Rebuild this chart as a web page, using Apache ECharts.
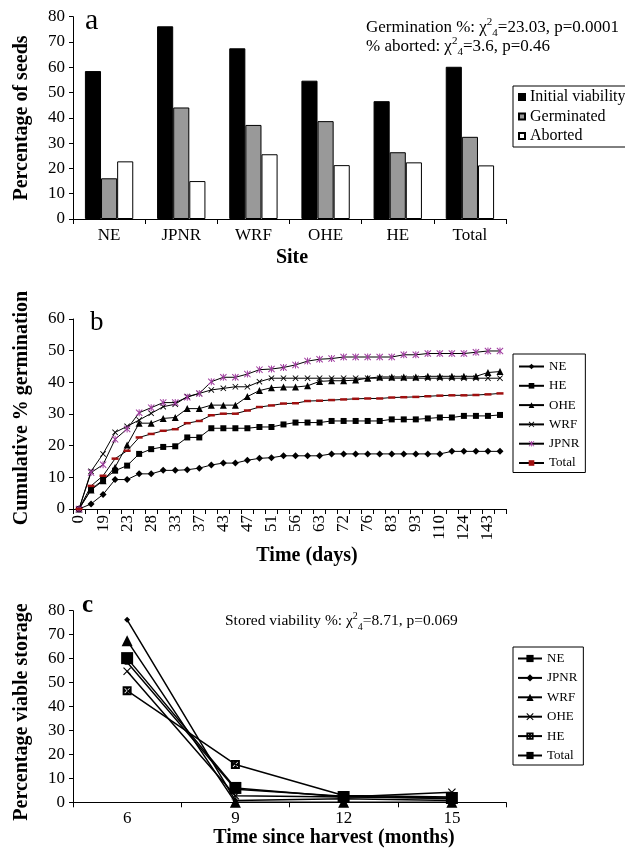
<!DOCTYPE html>
<html><head><meta charset="utf-8">
<script src="https://cdn.jsdelivr.net/npm/echarts@6/dist/echarts.min.js"></script>
<style>html,body{margin:0;padding:0;background:#fff}#c{width:625px;height:850px}</style>
</head><body><div id="c"></div>
<script>
// ---------- Panel a ----------
const sites = ['NE','JPNR','WRF','OHE','HE','Total'];
const initialViability = [58.5,76.2,67.5,54.7,46.6,60.2];
const germinated = [16.1,44.1,37.2,38.7,26.4,32.5];
const aborted = [22.8,15.0,25.6,21.3,22.4,21.2];
const yTicksA = [0,80,10];

// ---------- Panel b ----------
const days = ['0','15','19','21','23','26','28','30','33','35','37','40','43','45','47','49','51','54','56','59','63','68','72','74','76','79','83','88','93','100','110','117','124','134','143','150'];
const germNE = [0,1.6,4.6,9.3,9.3,11.1,11.1,12.2,12.2,12.4,12.9,13.9,14.5,14.5,15.4,16.0,16.2,16.8,16.8,16.8,16.8,17.4,17.4,17.4,17.4,17.4,17.4,17.4,17.4,17.4,17.4,18.2,18.2,18.2,18.2,18.2];
const germHE = [0,6.2,9.2,12.1,13.7,17.4,18.9,19.6,19.8,22.6,22.6,25.5,25.5,25.5,25.5,25.9,25.9,26.7,27.3,27.3,27.3,27.8,27.8,27.8,27.8,27.8,28.3,28.3,28.3,28.6,28.9,28.9,29.4,29.4,29.4,29.7];
const germOHE = [0,6.0,8.9,13.2,20.2,27.1,27.1,28.6,28.9,31.7,31.7,32.8,32.8,32.8,35.5,37.4,38.3,38.5,38.5,38.9,40.3,40.5,40.5,40.7,41.3,41.7,41.7,41.7,41.7,41.9,41.9,41.9,41.9,41.9,43.1,43.4];
const germWRF = [0,11.9,17.4,24.2,26.1,28.1,30.2,32.3,33.1,35.5,36.5,37.6,38.1,38.6,38.6,40.2,41.3,41.3,41.3,41.3,41.3,41.3,41.3,41.3,41.3,41.3,41.3,41.3,41.3,41.3,41.3,41.3,41.3,41.3,41.3,41.3];
const germJPNR = [0,11.5,14.0,22.0,25.3,30.4,32.0,33.6,33.6,35.3,36.5,40.2,41.6,41.6,42.6,44.0,44.2,44.7,45.5,46.7,47.3,47.5,48.0,48.0,48.0,48.0,48.0,48.7,48.7,49.1,49.1,49.1,49.1,49.5,49.9,49.9];
const germTotal = [0,7.3,10.5,15.9,18.4,22.6,23.7,24.7,25.2,27.1,27.8,29.6,30.1,30.1,31.1,32.2,32.7,33.3,33.4,34.1,34.2,34.4,34.6,34.8,34.9,34.9,35.2,35.3,35.4,35.6,35.8,35.9,35.9,36.0,36.2,36.5];
const yTicksB = [0,60,10];

// ---------- Panel c ----------
const months = ['6','9','12','15'];
const storeNE = [58.5,5.5,2.5,1.5];
const storeJPNR = [76.2,0.8,1.5,0.8];
const storeWRF = [67.5,0,0,0];
const storeOHE = [54.7,2.7,2.2,4.2];
const storeHE = [46.6,15.8,2.8,2.2];
const storeTotal = [60.2,6.0,2.2,1.8];
const yTicksC = [0,80,10];

const F = 'Liberation Serif, Times New Roman, serif';
const X_PATH = 'path://M0,1L1,0L5,4L9,0L10,1L6,5L10,9L9,10L5,6L1,10L0,9L4,5Z';
const STAR_PATH = 'path://M0,1L1,0L4.3,3.3L4.3,0L5.7,0L5.7,3.3L9,0L10,1L6,5L10,9L9,10L5.7,6.7L5.7,10L4.3,10L4.3,6.7L1,10L0,9L4,5Z';
const HE_PATH = 'path://M0,0L10,0L10,10L0,10Z M4.4,5L2,7.4L2.6,8L5,5.6L7.4,8L8,7.4L5.6,5L8,2.6L7.4,2L5,4.4L2.6,2L2,2.6Z';

const chart = echarts.init(document.getElementById('c'), null, {renderer:'canvas'});

function xAx(gi, data, extra) {
  return Object.assign({
    type:'category', gridIndex:gi, data:data, boundaryGap:true,
    axisLine:{lineStyle:{color:'#000',width:1}},
    axisTick:{show:true,length:5,interval:0,lineStyle:{color:'#000',width:1}},
    axisLabel:{color:'#000',fontFamily:F,fontSize:17,margin:8,interval:0},
    splitLine:{show:false}
  }, extra||{});
}
function yAx(gi, t) {
  return {
    type:'value', gridIndex:gi, min:t[0], max:t[1], interval:t[2],
    axisLine:{show:true,lineStyle:{color:'#000',width:1}},
    axisTick:{show:true,length:4,lineStyle:{color:'#000',width:1}},
    axisLabel:{color:'#000',fontFamily:F,fontSize:17,margin:8},
    splitLine:{show:false}
  };
}
const strip = n => n.replace(/^[abc]:/,'');

function lineB(name, data, symbol, size, color) {
  return {
    name:'b:'+name, type:'line', xAxisIndex:1, yAxisIndex:1, data:data,
    symbol:symbol, symbolSize:size, showSymbol:true,
    lineStyle:{color:'#000',width:1},
    itemStyle:{color:color||'#000'},
    emphasis:{disabled:true}, animation:false
  };
}
function lineC(name, data, symbol, size) {
  return {
    name:'c:'+name, type:'line', xAxisIndex:2, yAxisIndex:2, data:data,
    symbol:symbol, symbolSize:size, showSymbol:true,
    lineStyle:{color:'#000',width:1.5},
    itemStyle:{color:'#000'},
    emphasis:{disabled:true}, animation:false
  };
}
function barA(name, data, color) {
  return {
    name:'a:'+name, type:'bar', xAxisIndex:0, yAxisIndex:0, data:data,
    barGap:'0%', barCategoryGap:'33%',
    itemStyle:{color:color,borderColor:'#000',borderWidth:1},
    emphasis:{disabled:true}, animation:false
  };
}

const titleStyle = {fill:'#000',font:'bold 20px '+F,textAlign:'center',textVerticalAlign:'middle'};
function txt(x,y,text,style,rot){ return {type:'text',x:x,y:y,rotation:rot||0,style:Object.assign({text:text},style)}; }

const option = {
  backgroundColor:'#fff',
  animation:false,
  grid:[
    {left:73, top:16.7, width:433, height:202.3},
    {left:73, top:319, width:433, height:190},
    {left:73, top:610.7, width:433, height:191.6}
  ],
  xAxis:[
    xAx(0, sites),
    xAx(1, days, {axisLabel:{color:'#000',fontFamily:F,fontSize:17,margin:6,interval:1,rotate:90}}),
    xAx(2, months)
  ],
  yAxis:[ yAx(0,yTicksA), yAx(1,yTicksB), yAx(2,yTicksC) ],
  legend:[
    {data:['a:Initial viability','a:Germinated','a:Aborted'], formatter:strip, orient:'vertical',
     left:513, top:86, itemWidth:6, itemHeight:6, itemGap:3.5, icon:'rect', padding:[3,8,3,5],
     borderColor:'#000', borderWidth:1, selectedMode:false,
     textStyle:{color:'#000',fontFamily:F,fontSize:16}},
    {data:['b:NE','b:HE','b:OHE','b:WRF','b:JPNR','b:Total'], formatter:strip, orient:'vertical',
     left:513, top:354, itemWidth:25, itemHeight:7, itemGap:6.3, padding:[6,6,3,5],
     borderColor:'#000', borderWidth:1, selectedMode:false,
     textStyle:{color:'#000',fontFamily:F,fontSize:13}},
    {data:['c:NE','c:JPNR','c:WRF','c:OHE','c:HE','c:Total'], formatter:strip, orient:'vertical',
     left:513, top:647, itemWidth:24, itemHeight:9, itemGap:6.4, padding:[5,6,3,4],
     borderColor:'#000', borderWidth:1, selectedMode:false,
     textStyle:{color:'#000',fontFamily:F,fontSize:13}}
  ],
  series:[
    barA('Initial viability', initialViability, '#000'),
    barA('Germinated', germinated, '#999999'),
    barA('Aborted', aborted, '#ffffff'),
    lineB('NE', germNE, 'diamond', 7),
    lineB('HE', germHE, 'rect', 6),
    lineB('OHE', germOHE, 'triangle', 7),
    lineB('WRF', germWRF, X_PATH, 6),
    lineB('JPNR', germJPNR, STAR_PATH, 7, '#a03ca0'),
    lineB('Total', germTotal, 'rect', [7,2.5], '#a01010'),
    lineC('NE', storeNE, 'rect', 5),
    lineC('JPNR', storeJPNR, 'diamond', 6),
    lineC('WRF', storeWRF, 'triangle', 11),
    lineC('OHE', storeOHE, X_PATH, 8),
    lineC('HE', storeHE, HE_PATH, 9),
    lineC('Total', storeTotal, 'rect', 12)
  ],
  graphic:[
    txt(85, 36, 'a', {fill:'#000',font:'30px '+F,textVerticalAlign:'bottom'}),
    {type:'text', left:366, top:17, style:{
      text:'{t|Germination %: χ}{s|2}{u|4}{t|=23.03, p=0.0001}\n{t|% aborted: χ}{s|2}{u|4}{t|=3.6, p=0.46}',
      rich:{
        t:{fontFamily:F,fontSize:17,lineHeight:19,fill:'#000',verticalAlign:'bottom'},
        s:{fontFamily:F,fontSize:11,lineHeight:19,fill:'#000',verticalAlign:'top',padding:[0,0,0,0]},
        u:{fontFamily:F,fontSize:11,lineHeight:13,fill:'#000',verticalAlign:'bottom',padding:[0,0,-3,0]}
      }
    }},
    txt(22, 118, 'Percentage of seeds', titleStyle, Math.PI/2),
    txt(292, 258, 'Site', titleStyle),

    txt(90, 336, 'b', {fill:'#000',font:'27px '+F,textVerticalAlign:'bottom'}),
    txt(22, 408, 'Cumulative % germination', titleStyle, Math.PI/2),
    txt(307, 556, 'Time (days)', titleStyle),

    txt(82, 618, 'c', {fill:'#000',font:'bold 25px '+F,textVerticalAlign:'bottom'}),
    {type:'text', left:225, top:611, style:{
      text:'{t|Stored viability %: χ}{s|2}{u|4}{t|=8.71, p=0.069}',
      rich:{
        t:{fontFamily:F,fontSize:15.5,lineHeight:18,fill:'#000',verticalAlign:'bottom'},
        s:{fontFamily:F,fontSize:10,lineHeight:18,fill:'#000',verticalAlign:'top'},
        u:{fontFamily:F,fontSize:10,lineHeight:12,fill:'#000',verticalAlign:'bottom',padding:[0,0,-3,0]}
      }
    }},
    txt(22, 712, 'Percentage viable storage', titleStyle, Math.PI/2),
    txt(334, 838, 'Time since harvest (months)', titleStyle)
  ]
};
chart.setOption(option);
</script>
</body></html>
